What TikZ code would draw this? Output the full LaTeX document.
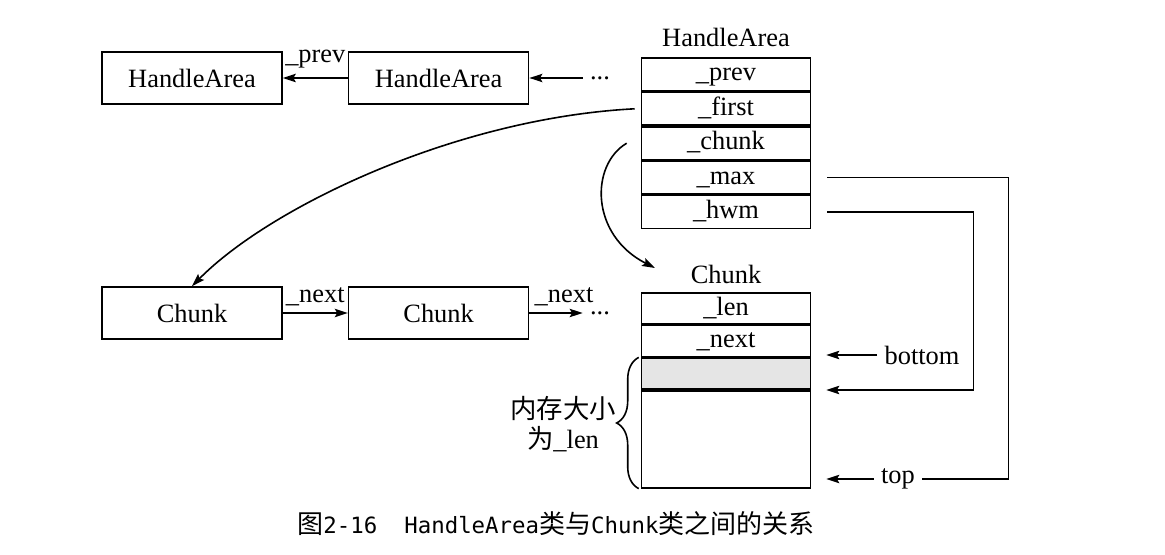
\documentclass[tikz,border=0pt]{standalone}
\usepackage{fontspec}
\setmainfont{Liberation Serif}
\newfontfamily\cjk{Noto Sans CJK SC}
\newfontfamily\capmono{DejaVu Sans Mono}
\newcommand\capzh[1]{{\cjk\fontsize{13}{15}\selectfont #1}}
\newcommand\capen[1]{{\capmono\fontsize{11.2}{15}\selectfont #1}}
\usetikzlibrary{arrows.meta,positioning,decorations.pathreplacing}
\begin{document}
\begin{tikzpicture}[x=0.5pt,y=-0.5pt,->,>={Stealth[length=6.5pt,width=4.2pt,inset=1.2pt]},line width=0.8pt,
		font=\fontsize{13.2}{15}\selectfont,node distance=32.5pt]
		\tikzstyle{obj}=[draw,minimum width=90pt,minimum height=26pt,inner sep=0pt]
		\tikzstyle{field}=[draw,minimum width=84.5pt,minimum height=16.4pt,inner sep=0pt,
		text height=9.5pt,text depth=3pt]
		\tikzstyle{cfield}=[field,minimum height=15.5pt]
		
		\useasboundingbox (0,0) rectangle (1165,555);
		
		\node[obj] (ha1) at (192,78)          {HandleArea};
		\node[obj] (ha2) [right=of ha1]       {HandleArea};
		\node (hadots) at (600,78)            {...};
		
		\node (hatitle) at (726,37)           {HandleArea};
		\node[field] (prev) at (726,74.4)     {\_prev};
		\node[field] (first) [below=0pt of prev]  {\_first};
		\node[field] (chunk) [below=0pt of first] {\_chunk};
		\node[field] (max) [below=0pt of chunk]   {\_max};
		\node[field] (hwm) [below=0pt of max]     {\_hwm};
		
		\node[obj] (c1) at (192,313)          {Chunk};
		\node[obj] (c2) [right=of c1]         {Chunk};
		\node (cdots) at (600,313)            {...};
		
		\node (ctitle) at (726,274)           {Chunk};
		\node[cfield] (len) at (726,308.5)    {\_len};
		\node[cfield] (next) [below=0pt of len]   {\_next};
		\node[cfield,fill=gray!20] (gray) [below=0pt of next] {};
		\node[draw,minimum width=84.5pt,minimum height=48.5pt] (rest) [below=0pt of gray] {};
		\coordinate (ctip) at (655,268);
		
		\node (pbottom) at (922,355)          {bottom};
		\node (ptop) at (898,479)             {top};
		\node[align=center] (size) at (563,424) {{\cjk 内存大小}\\{\cjk 为}\_len};
		
		\node (caption) at (556,524) {\capzh{图}\capen{2-16\ \ HandleArea}\capzh{类与}\capen{Chunk}\capzh{类之间的关系}};
		
		\path (ha2) edge node[above=1pt] {\_prev} (ha1)
		(hadots) edge (ha2)
		(c1) edge node[above] {\_next} (c2)
		(c2) edge node[above,pos=0.65] {\_next} (cdots);
		
		\draw ([xshift=-3pt]first.west) .. controls (456,118) and (270,207) .. (c1.north);
		\draw ([xshift=-7pt]chunk.west) .. controls (590,165) and (590,235) .. (ctip);
		
		\draw[-] ([xshift=8pt]max.east) -- ++(181,0) |- (ptop.east);
		\draw ([xshift=8pt]hwm.east) -- ++(146,0) |- ([xshift=7.5pt]gray.south east);
		\draw (pbottom.west) -- ([xshift=7.5pt]gray.east |- pbottom.west);
		\draw (ptop.west) -- ([xshift=7.5pt]rest.east |- ptop.west);
		
		\draw[-,decorate,decoration={brace,amplitude=11pt}] ([xshift=-1pt]rest.south west) -- ([xshift=-1pt]gray.north west);
\end{tikzpicture}
\end{document}
